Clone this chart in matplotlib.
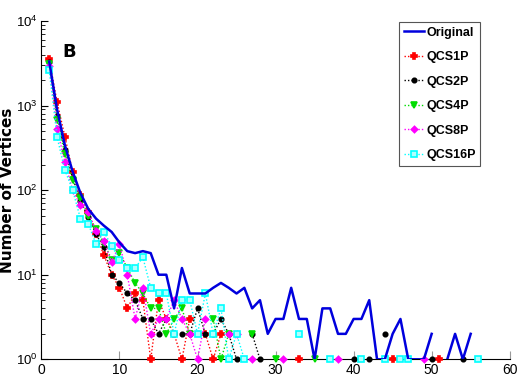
import numpy as np
import matplotlib
matplotlib.use("Agg")
import matplotlib.pyplot as plt

plt.rcParams['font.family'] = ['Liberation Sans', 'DejaVu Sans']

nan = np.nan

# vertex degree 1..56
degree = list(range(1, 57))

original = [3300, 900, 340, 165, 92, 60, 46, 38, 32, 24,
            19, 18, 19, 18, 10, 10, 4, 12, 6, 6,
            6, 7, 8, 7, 6, 7, 4, 5, 2, 3,
            3, 7, 3, 3, 1, 4, 4, 2, 2, 3,
            3, 5, 1, 1, 2, 3, 1, 1, 1, 2,
            nan, 1, 2, 1, 2, nan]

qcs1p = [3500, 1100, 430, 165, 88, 55, 30, 17, 10, 7,
         4, 6, 5, 1, 5, 3, 2, 1, 3, nan,
         2, 1, 2, nan, nan, nan, nan, nan, nan, nan,
         nan, nan, 1, nan, nan, nan, nan, nan, nan, nan,
         nan, nan, nan, nan, 1, nan, nan, nan, nan, nan,
         1, nan, nan, nan, nan, nan]

qcs2p = [3300, 760, 300, 140, 75, 48, 30, 21, 10, 8,
         6, 5, 3, 3, 2, 3, nan, 2, 2, 4,
         2, 2, 3, 2, 1, nan, 2, 1, nan, nan,
         nan, nan, nan, nan, nan, nan, nan, nan, nan, 1,
         nan, 1, nan, 2, nan, nan, nan, nan, nan, 1,
         nan, nan, nan, 1, nan, nan]

qcs4p = [3100, 670, 270, 130, 80, 50, 35, 24, 15, 18,
         12, 8, 6, 4, 4, 2, 3, 4, 2, nan,
         nan, 3, 1, 2, nan, nan, 2, nan, nan, 1,
         nan, nan, nan, nan, 1, nan, nan, nan, nan, nan,
         nan, nan, nan, nan, nan, nan, nan, nan, nan, nan,
         nan, nan, nan, nan, nan, nan]

qcs8p = [2900, 530, 215, 100, 66, 55, 33, 25, 14, 23,
         10, 3, 7, 2, 3, 3, 5, 3, 2, 1,
         3, nan, nan, 2, 2, nan, 1, nan, nan, nan,
         1, nan, nan, nan, nan, nan, nan, 1, nan, nan,
         nan, nan, nan, nan, nan, nan, nan, nan, 1, nan,
         nan, nan, nan, nan, nan, nan]

qcs16p = [2600, 425, 172, 100, 46, 40, 23, 32, 22, 15,
          12, 12, 16, 7, 6, 6, 2, 5, 5, 2,
          6, 2, 4, 1, 2, 1, nan, nan, nan, nan,
          nan, nan, 2, nan, nan, nan, 1, nan, nan, nan,
          1, nan, nan, 1, nan, 1, 1, nan, nan, nan,
          nan, nan, nan, nan, nan, 1]

fig = plt.figure(figsize=(5.18, 3.85), dpi=100)
ax = fig.add_axes([0.080, 0.0667, 0.904, 0.879])

ax.plot(degree, original, '-', color='#0000dd', lw=1.8, label='Original', zorder=5)

styles = [
    (qcs1p, 'QCS1P', 'red', 'P', 3.8, 'red'),
    (qcs2p, 'QCS2P', 'black', 'o', 3.2, 'black'),
    (qcs4p, 'QCS4P', '#00dd00', 'v', 3.8, '#00dd00'),
    (qcs8p, 'QCS8P', 'magenta', 'D', 3.2, 'magenta'),
    (qcs16p, 'QCS16P', 'cyan', 's', 4.2, '#b0ffff'),
]
for vals, name, col, mk, ms, face in styles:
    ax.plot(degree, vals, linestyle=(0, (1, 1.5)), lw=1.0, color=col,
            marker=mk, ms=ms, mfc=face, mec=col, mew=1.2,
            label=name, clip_on=False, zorder=4)

ax.set_yscale('log')
ax.set_xlim(0, 60)
ax.set_ylim(1, 1e4)
ax.set_xticks(range(0, 61, 10))
ax.spines['top'].set_visible(False)
ax.spines['right'].set_visible(False)
ax.tick_params(axis='x', which='major', direction='in', length=6, color='#999999',
               labelsize=10, pad=3)
ax.tick_params(axis='y', which='both', direction='in', labelsize=9.5, pad=3)
ax.tick_params(axis='y', which='major', length=5)
ax.tick_params(axis='y', which='minor', length=3)

ax.set_ylabel('Number of Vertices', family='DejaVu Sans', fontweight='bold',
              fontsize=11)
ax.yaxis.set_label_coords(-0.056, 0.5)
ax.text(0.045, 0.935, 'B', transform=ax.transAxes, fontsize=13,
        fontweight='bold', family='DejaVu Sans', va='top')

leg = ax.legend(loc='upper right', bbox_to_anchor=(0.937, 0.996), fancybox=False,
                edgecolor='#555555', framealpha=1, handlelength=1.6,
                handletextpad=0.2, labelspacing=1.0, borderpad=0.35,
                borderaxespad=0,
                prop={'family': 'Liberation Sans', 'weight': 'bold', 'size': 9})
leg.get_frame().set_linewidth(0.8)

fig.savefig('out.png', dpi=100)
